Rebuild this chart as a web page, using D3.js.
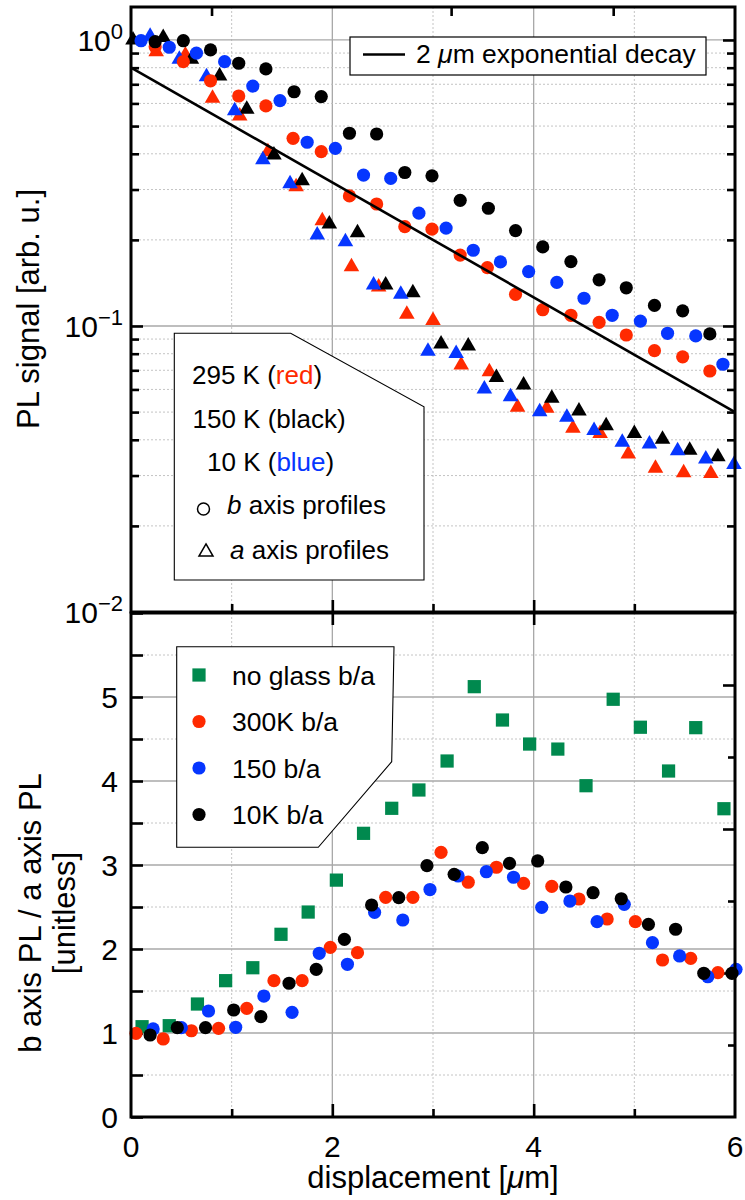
<!DOCTYPE html>
<html><head><meta charset="utf-8">
<script src="https://cdn.jsdelivr.net/npm/d3@7"></script>
<style>
body{margin:0;background:#fff}
svg{display:block}
text{font-family:"Liberation Sans",Arial,Helvetica,sans-serif;fill:#000}
</style>
</head><body>
<svg id="c" width="745" height="1200"></svg>
<script>
// ---------- top panel: PL profiles (log scale) ----------
const bRedX   = [0.24,0.52,0.79,1.07,1.34,1.61,1.89,2.17,2.44,2.72,2.99,3.27,3.54,3.82,4.09,4.37,4.65,4.92,5.20,5.48,5.75];
const bRedY   = [0.947,0.840,0.720,0.637,0.588,0.453,0.407,0.285,0.267,0.2225,0.218,0.177,0.160,0.129,0.114,0.109,0.103,0.093,0.082,0.078,0.0696];
const bBlackX = [0.24,0.52,0.79,1.07,1.34,1.62,1.89,2.17,2.44,2.72,2.99,3.27,3.55,3.82,4.09,4.37,4.65,4.92,5.20,5.48,5.75];
const bBlackY = [0.986,0.994,0.923,0.829,0.792,0.659,0.634,0.472,0.469,0.344,0.335,0.275,0.258,0.2155,0.189,0.168,0.145,0.136,0.118,0.113,0.0938];
const bBlueX  = [0.10,0.38,0.65,0.93,1.21,1.48,1.75,2.03,2.31,2.58,2.86,3.13,3.40,3.67,3.95,4.23,4.50,4.78,5.06,5.33,5.61,5.88];
const bBlueY  = [0.994,0.943,0.899,0.840,0.690,0.614,0.439,0.418,0.337,0.328,0.248,0.220,0.184,0.1675,0.155,0.142,0.125,0.109,0.104,0.0943,0.0923,0.0735];
const aRedX   = [0.25,0.54,0.81,1.08,1.36,1.64,1.90,2.19,2.46,2.74,3.00,3.28,3.56,3.84,4.13,4.39,4.66,4.94,5.21,5.49,5.76];
const aRedY   = [0.91,0.886,0.626,0.542,0.407,0.307,0.2335,0.161,0.137,0.110,0.1045,0.073,0.0692,0.052,0.0516,0.0439,0.0421,0.0357,0.0318,0.0307,0.0305];
const aBlackX = [0.02,0.32,0.60,0.88,1.15,1.42,1.70,1.97,2.25,2.53,2.80,3.08,3.35,3.63,3.90,4.18,4.45,4.72,5.00,5.28,5.55,5.83];
const aBlackY = [1.0,1.02,0.856,0.748,0.573,0.396,0.322,0.2274,0.212,0.139,0.1307,0.0865,0.0851,0.066,0.0622,0.0559,0.0504,0.0448,0.0421,0.0402,0.0368,0.0349];
const aBlueX  = [0.19,0.48,0.75,1.03,1.31,1.58,1.85,2.13,2.41,2.68,2.95,3.23,3.51,3.77,4.06,4.33,4.60,4.88,5.15,5.43,5.71,5.99];
const aBlueY  = [1.03,0.856,0.744,0.566,0.381,0.314,0.208,0.197,0.139,0.129,0.0816,0.0802,0.0602,0.0566,0.0501,0.048,0.0431,0.0392,0.0387,0.0366,0.0343,0.0328];
const decayX  = [0, 6];
const decayY  = [0.80, 0.050];

// ---------- bottom panel: b/a ratio ----------
const gX  = [0.11,0.38,0.66,0.94,1.21,1.49,1.76,2.04,2.31,2.59,2.86,3.14,3.41,3.69,3.96,4.24,4.52,4.79,5.06,5.34,5.61,5.89];
const gY  = [1.075,1.087,1.345,1.623,1.777,2.175,2.44,2.82,3.377,3.675,3.893,4.238,5.123,4.726,4.44,4.38,3.944,4.973,4.64,4.119,4.635,3.67];
const rX  = [0.05,0.32,0.60,0.87,1.15,1.42,1.70,1.98,2.25,2.53,2.80,3.08,3.35,3.63,3.90,4.18,4.45,4.73,5.01,5.28,5.56,5.83];
const rY  = [0.996,0.929,1.027,1.056,1.294,1.623,1.623,2.02,1.956,2.615,2.615,3.151,2.795,2.973,2.782,2.746,2.595,2.357,2.325,1.869,1.889,1.718];
const blX = [0.22,0.50,0.77,1.04,1.32,1.60,1.87,2.15,2.42,2.70,2.97,3.25,3.53,3.80,4.08,4.36,4.63,4.90,5.18,5.45,5.73,6.01];
const blY = [1.048,1.063,1.262,1.068,1.44,1.246,1.949,1.818,2.437,2.345,2.708,2.869,2.92,2.854,2.496,2.571,2.325,2.532,2.075,1.917,1.67,1.758];
const kX  = [0.19,0.46,0.74,1.02,1.29,1.57,1.84,2.12,2.39,2.66,2.94,3.21,3.49,3.76,4.04,4.32,4.59,4.87,5.14,5.41,5.69,5.97];
const kY  = [0.976,1.063,1.063,1.274,1.194,1.592,1.758,2.115,2.524,2.611,2.992,2.889,3.206,3.02,3.048,2.738,2.67,2.598,2.294,2.235,1.711,1.711];

// ---------- ticks ----------
const xMajor = [0, 2, 4, 6];
const xMinor = [1, 3, 5];
const xTickLabels = ["0", "2", "4", "6"];
const xTopTicks = [0.8, 3.18, 4.79];
const logMajor = [0.01, 0.1, 1];
const logMajorExp = ["0", "\u22121", "\u22122"];
const logMinor = [0.02,0.03,0.04,0.05,0.06,0.07,0.08,0.09,0.2,0.3,0.4,0.5,0.6,0.7,0.8,0.9];
const linMajor = [0, 1, 2, 3, 4, 5, 6];
const linMinor = [0.5, 1.5, 2.5, 3.5, 4.5, 5.5];
const linLabels = ["0", "1", "2", "3", "4", "5"];
const rightTicks = [1, 2, 3, 4, 5, 6];

const RED = "#ff2a00", BLUE = "#0636ff", GREEN = "#00894e", BLACK = "#000";

const svg = d3.select("#c");
const L = 131, R = 735, T1 = 7, B1 = 612, T2 = 613, B2 = 1117;
const x = d3.scaleLinear().domain([0, 6]).range([L, R]);
const yT = d3.scaleLog().domain([0.01, 1.304]).range([B1, T1]);
const yB = d3.scaleLinear().domain([0, 6]).range([B2, T2]);
const yR = d3.scaleLinear().domain([0, 7]).range([B2, T2]);

const zip = (xs, ys) => xs.map((v, i) => [v, ys[i]]);

// ---------- grids ----------
function grid(g, xs, y0, y1, dashed) {
  g.selectAll(null).data(xs).join("line")
    .attr("x1", d => x(d)).attr("x2", d => x(d)).attr("y1", y0).attr("y2", y1)
    .attr("stroke", dashed ? "#bdbdbd" : "#a8a8a8")
    .attr("stroke-width", dashed ? 0.9 : 1.3)
    .attr("stroke-dasharray", dashed ? "2,2" : null);
}
function hgrid(g, ys, scale, dashed) {
  g.selectAll(null).data(ys).join("line")
    .attr("x1", L).attr("x2", R).attr("y1", d => scale(d)).attr("y2", d => scale(d))
    .attr("stroke", dashed ? "#bdbdbd" : "#a8a8a8")
    .attr("stroke-width", dashed ? 0.9 : 1.3)
    .attr("stroke-dasharray", dashed ? "2,2" : null);
}
const gridG = svg.append("g");
grid(gridG.append("g"), xMinor, T1, B1, true);
grid(gridG.append("g"), [2, 4], T1, B1, false);
hgrid(gridG.append("g"), logMinor, yT, true);
hgrid(gridG.append("g"), [0.1, 1], yT, false);
grid(gridG.append("g"), xMinor, T2, B2, true);
grid(gridG.append("g"), [2, 4], T2, B2, false);
hgrid(gridG.append("g"), linMinor, yB, true);
hgrid(gridG.append("g"), [1, 2, 3, 4, 5], yB, false);

// ---------- axes (inward ticks) ----------
function ax(axis, tx, ty, len, vals) {
  const g = svg.append("g").attr("transform", `translate(${tx},${ty})`)
    .call(axis.tickValues(vals).tickSize(len).tickSizeOuter(0).tickFormat(""));
  g.select(".domain").remove();
  g.selectAll(".tick line").attr("stroke", "#000").attr("stroke-width", 2.6);
  return g;
}
// top panel
ax(d3.axisLeft(yT), L, 0, -12, logMajor);
ax(d3.axisLeft(yT), L, 0, -8, logMinor);
ax(d3.axisRight(yT), R, 0, -12, logMajor);
ax(d3.axisRight(yT), R, 0, -8, logMinor);
ax(d3.axisBottom(x), 0, B1, -12, [2, 4]);
ax(d3.axisBottom(x), 0, B1, -8, xMinor);
ax(d3.axisTop(x), 0, T1, -9, xTopTicks);
// bottom panel
ax(d3.axisLeft(yB), L, 0, -12, linMajor.concat(linMinor));
ax(d3.axisRight(yR), R, 0, -12, rightTicks.filter(d => d % 2 === 0));
ax(d3.axisRight(yR), R, 0, -7, rightTicks.filter(d => d % 2 === 1));
ax(d3.axisBottom(x), 0, B2, -13, [2, 4]);
ax(d3.axisBottom(x), 0, B2, -8, xMinor);
ax(d3.axisTop(x), 0, T2, -12, [2, 4]);

// ---------- data marks ----------
const tri = d3.symbol().type(d3.symbolTriangle).size(105)();
const sq = d3.symbol().type(d3.symbolSquare).size(175)();
function circles(g, data, yS, color, r) {
  g.append("g").selectAll("circle").data(data).join("circle")
    .attr("cx", d => x(d[0])).attr("cy", d => yS(d[1])).attr("r", r).attr("fill", color);
}
function symbols(g, data, yS, color, path) {
  g.append("g").selectAll("path").data(data).join("path")
    .attr("d", path).attr("transform", d => `translate(${x(d[0])},${yS(d[1])})`).attr("fill", color);
}
const topG = svg.append("g");
symbols(topG, zip(aRedX, aRedY), yT, RED, tri);
symbols(topG, zip(aBlackX, aBlackY), yT, BLACK, tri);
symbols(topG, zip(aBlueX, aBlueY), yT, BLUE, tri);
circles(topG, zip(bRedX, bRedY), yT, RED, 6.6);
circles(topG, zip(bBlackX, bBlackY), yT, BLACK, 6.6);
circles(topG, zip(bBlueX, bBlueY), yT, BLUE, 6.6);
topG.append("path").datum(zip(decayX, decayY))
  .attr("d", d3.line().x(d => x(d[0])).y(d => yT(d[1])))
  .attr("fill", "none").attr("stroke", "#000").attr("stroke-width", 2.6);

const botG = svg.append("g");
symbols(botG, zip(gX, gY), yB, GREEN, sq);
circles(botG, zip(rX, rY), yB, RED, 6.6);
circles(botG, zip(blX, blY), yB, BLUE, 6.6);
circles(botG, zip(kX, kY), yB, BLACK, 6.6);

// ---------- frames ----------
svg.append("rect").attr("x", L).attr("y", T1).attr("width", R - L).attr("height", B1 - T1)
  .attr("fill", "none").attr("stroke", "#000").attr("stroke-width", 3);
svg.append("rect").attr("x", L).attr("y", T2).attr("width", R - L).attr("height", B2 - T2)
  .attr("fill", "none").attr("stroke", "#000").attr("stroke-width", 3);

// ---------- tick labels ----------
logMajor.slice().reverse().forEach((v, i) => {
  const t = svg.append("text").attr("x", 123).attr("y", yT(v) + 11)
    .attr("text-anchor", "end").style("font-size", "30px");
  t.append("tspan").text("10");
  t.append("tspan").attr("dy", -12).style("font-size", "22px").text(logMajorExp[i]);
});
svg.selectAll(".ylab").data(linLabels).join("text")
  .attr("x", 118).attr("y", (d, i) => yB(i) + 11).attr("text-anchor", "end")
  .style("font-size", "30px").text(d => d);
svg.selectAll(".xlab").data(xTickLabels).join("text")
  .attr("x", (d, i) => x(xMajor[i])).attr("y", 1157).attr("text-anchor", "middle")
  .style("font-size", "30px").text(d => d);

// ---------- axis titles ----------
const xt = svg.append("text").attr("x", 433).attr("y", 1188).attr("text-anchor", "middle").style("font-size", "31px");
xt.append("tspan").text("displacement [");
xt.append("tspan").style("font-style", "italic").text("\u03bc");
xt.append("tspan").text("m]");
svg.append("text").attr("transform", "translate(39,309) rotate(-90)").attr("text-anchor", "middle")
  .style("font-size", "31px").text("PL signal [arb. u.]");
svg.append("text").attr("transform", "translate(41,913) rotate(-90)").attr("text-anchor", "middle")
  .style("font-size", "31px").text("b axis PL / a axis PL");
svg.append("text").attr("transform", "translate(75,913) rotate(-90)").attr("text-anchor", "middle")
  .style("font-size", "31px").text("[unitless]");

// ---------- legend 1 ----------
svg.append("rect").attr("x", 350).attr("y", 37).attr("width", 356).attr("height", 38)
  .attr("fill", "#fff").attr("stroke", "#000").attr("stroke-width", 1.2);
svg.append("line").attr("x1", 363).attr("x2", 405).attr("y1", 54.5).attr("y2", 54.5)
  .attr("stroke", "#000").attr("stroke-width", 2.6);
const l1 = svg.append("text").attr("x", 416).attr("y", 63).style("font-size", "26.5px");
l1.append("tspan").text("2 ");
l1.append("tspan").style("font-style", "italic").text("\u03bc");
l1.append("tspan").text("m exponential decay");

// ---------- legend 2 ----------
svg.append("polygon").attr("points", "174.3,333.3 290.7,333.3 424,406.7 424,580 174.3,580")
  .attr("fill", "#fff").attr("stroke", "#000").attr("stroke-width", 1.1);
function colorLine(xp, yp, pre, word, color) {
  const t = svg.append("text").attr("x", xp).attr("y", yp).style("font-size", "26px");
  t.append("tspan").text(pre + " (");
  t.append("tspan").style("fill", color).text(word);
  t.append("tspan").text(")");
}
colorLine(192, 384, "295 K", "red", RED);
colorLine(192.5, 428, "150 K", "black", BLACK);
colorLine(207, 471, "10 K", "blue", BLUE);
svg.append("circle").attr("cx", 203.5).attr("cy", 509).attr("r", 6)
  .attr("fill", "none").attr("stroke", "#000").attr("stroke-width", 1.5);
svg.append("path").attr("d", d3.symbol().type(d3.symbolTriangle).size(85)())
  .attr("transform", "translate(206,552)").attr("fill", "none").attr("stroke", "#000").attr("stroke-width", 1.5);
const lb = svg.append("text").attr("x", 227).attr("y", 514).style("font-size", "26px");
lb.append("tspan").style("font-style", "italic").text("b");
lb.append("tspan").text(" axis profiles");
const la = svg.append("text").attr("x", 230).attr("y", 559).style("font-size", "26px");
la.append("tspan").style("font-style", "italic").text("a");
la.append("tspan").text(" axis profiles");

// ---------- legend 3 ----------
svg.append("polygon").attr("points", "176.7,646.7 394,646.7 391.7,761.7 318.3,847.3 176.7,847.3")
  .attr("fill", "#fff").attr("stroke", "#000").attr("stroke-width", 1.1);
const leg3 = [
  {label: "no glass b/a", color: GREEN, sym: "sq", y: 675},
  {label: "300K b/a", color: RED, sym: "c", y: 721.5},
  {label: "150 b/a", color: BLUE, sym: "c", y: 768},
  {label: "10K b/a", color: BLACK, sym: "c", y: 814.5}
];
leg3.forEach(d => {
  if (d.sym === "sq") {
    svg.append("path").attr("d", sq).attr("transform", `translate(199,${d.y})`).attr("fill", d.color);
  } else {
    svg.append("circle").attr("cx", 199).attr("cy", d.y).attr("r", 6.6).attr("fill", d.color);
  }
  svg.append("text").attr("x", 232).attr("y", d.y + 9.5).style("font-size", "26.5px").text(d.label);
});
</script>
</body></html>
